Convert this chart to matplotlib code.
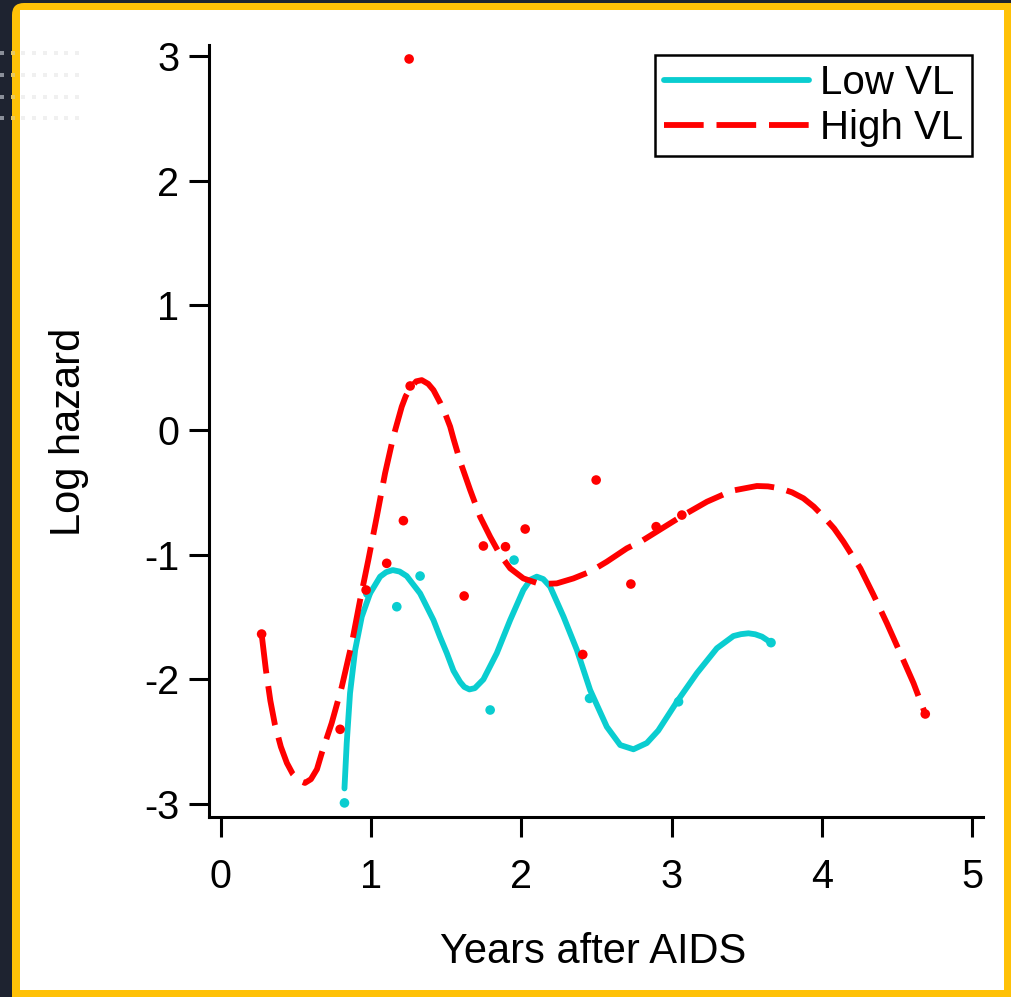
import numpy as np
import matplotlib.pyplot as plt
from matplotlib.patches import FancyBboxPatch, Rectangle

plt.rcParams['font.family'] = ['Liberation Sans', 'DejaVu Sans']

# DATA
# fitted curves
low_x = [0.823, 0.838, 0.86, 0.894, 0.938, 0.993, 1.06, 1.10, 1.144, 1.19, 1.237, 1.326,
         1.415, 1.459, 1.504, 1.548, 1.592, 1.62, 1.654, 1.69, 1.747, 1.836,
         1.925, 2.013, 2.06, 2.102, 2.145, 2.191, 2.28, 2.369, 2.457, 2.568, 2.657,
         2.745, 2.834, 2.91, 3.034, 3.167, 3.30, 3.41, 3.46, 3.51, 3.555, 3.60, 3.66]
low_y = [-2.874, -2.51, -2.11, -1.764, -1.497, -1.31, -1.176, -1.14, -1.123, -1.135, -1.171, -1.31,
         -1.524, -1.66, -1.79, -1.93, -2.02, -2.06, -2.08, -2.07, -2.0, -1.79,
         -1.524, -1.283, -1.2, -1.176, -1.195, -1.256, -1.497, -1.764, -2.085, -2.38, -2.526,
         -2.56, -2.51, -2.41, -2.179, -1.95, -1.75, -1.652, -1.637, -1.63, -1.638, -1.657, -1.705]

high_x = [0.272, 0.30, 0.33, 0.36, 0.40, 0.44, 0.48, 0.52, 0.56, 0.60,
          0.64, 0.672, 0.738, 0.805, 0.872, 0.927, 0.982, 1.038, 1.093, 1.148,
          1.204, 1.23, 1.26, 1.30, 1.337, 1.38, 1.415, 1.459, 1.492, 1.526, 1.548,
          1.592, 1.659, 1.725, 1.792, 1.858, 1.925, 2.013, 2.124, 2.235, 2.346,
          2.457, 2.568, 2.701, 2.80, 2.90, 3.067, 3.234, 3.40, 3.566, 3.64, 3.721,
          3.80, 3.876, 3.945, 4.01, 4.08, 4.142, 4.254, 4.342, 4.431, 4.52, 4.608, 4.686]
high_y = [-1.636, -1.92, -2.17, -2.36, -2.54, -2.67, -2.76, -2.81, -2.83, -2.80,
          -2.72, -2.59, -2.35, -2.06, -1.71, -1.363, -1.04, -0.695, -0.347, -0.054,
          0.187, 0.27, 0.334, 0.39, 0.40, 0.37, 0.32, 0.22, 0.134, 0.027, -0.07,
          -0.25, -0.481, -0.695, -0.856, -1.00, -1.109, -1.19, -1.235, -1.23, -1.19,
          -1.136, -1.056, -0.949, -0.89, -0.815, -0.69, -0.575, -0.487, -0.449, -0.452, -0.468,
          -0.50, -0.548, -0.615, -0.695, -0.79, -0.896, -1.109, -1.323, -1.55, -1.79, -2.03, -2.277]

# raw points
low_pts_x = [0.823, 0.978, 1.171, 1.326, 1.792, 1.951, 2.453, 3.045, 3.66]
low_pts_y = [-2.99, -1.31, -1.417, -1.171, -2.245, -1.043, -2.152, -2.179, -1.705]

high_pts_x = [0.272, 0.794, 0.967, 1.104, 1.215, 1.253, 1.26, 1.619, 1.747,
              1.894, 2.025, 2.408, 2.497, 2.728, 2.896, 3.067, 4.686]
high_pts_y = [-1.636, -2.40, -1.283, -1.069, -0.727, 2.975, 0.353, -1.331, -0.93,
              -0.936, -0.794, -1.80, -0.401, -1.235, -0.775, -0.682, -2.277]

x_ticks = [0, 1, 2, 3, 4, 5]
y_ticks = [-3, -2, -1, 0, 1, 2, 3]
y_tick_labels = ['-3', '-2', '-1', '0', '1', '2', '3']

CYAN = '#0ACDD0'
RED = '#FF0000'
W, H = 1012, 997

fig = plt.figure(figsize=(W / 100, H / 100), dpi=100)
fig.patch.set_facecolor('#1E2330')

# screenshot frame: yellow rounded border around white panel (kept behind the axes)
px = fig.dpi_scale_trans
fig.patches.append(FancyBboxPatch((12 / 100, -30 / 100), (W + 30 - 12) / 100, (H - 3 + 30) / 100,
                                  boxstyle='round,pad=0,rounding_size=0.12',
                                  facecolor='#FFC107', edgecolor='none', transform=px,
                                  zorder=-3))
fig.patches.append(Rectangle((20 / 100, (H - 990) / 100), (1004 - 20) / 100, (990 - 10) / 100,
                             facecolor='white', edgecolor='none', transform=px, zorder=-2))
# faint dotted decoration at the left edge
for yy in [53, 75, 97, 118]:
    xs = np.arange(2, 78, 10.7)
    cols = ['#8A8F99' if x < 12 else ('#E8C860' if x < 20 else '#F0F0F0') for x in xs]
    for x, c in zip(xs, cols):
        fig.patches.append(Rectangle(((x - 2) / 100, (H - yy - 2) / 100), 4 / 100, 4 / 100,
                                     facecolor=c, edgecolor='none', transform=px, zorder=-1))

ax = fig.add_axes([209 / W, 1 - 817 / H, (983 - 209) / W, (817 - 45) / H])
ax.set_facecolor('none')

ax.plot(low_x, low_y, color=CYAN, lw=4.2, solid_capstyle='round', solid_joinstyle='round',
        label='Low VL', zorder=3)
ax.plot(high_x, high_y, color=RED, lw=4.2, linestyle=(0, (6.8, 2.2)), dash_joinstyle='round',
        label='High VL', zorder=3)
ax.scatter(low_pts_x, low_pts_y, s=48, color=CYAN, edgecolor='none', zorder=4)
ax.scatter(high_pts_x, high_pts_y, s=48, color=RED, edgecolor='none', zorder=4)

ax.set_xlim(-0.078, 5.07)
ax.set_ylim(-3.103, 3.087)
ax.set_xticks(x_ticks)
ax.set_yticks(y_ticks)
ax.set_yticklabels(y_tick_labels)

for s in ['top', 'right']:
    ax.spines[s].set_visible(False)
for s in ['left', 'bottom']:
    ax.spines[s].set_linewidth(2.2)
ax.tick_params(axis='both', length=14.4, width=2.2, labelsize=28.5, color='black')
ax.tick_params(axis='x', pad=15)
ax.tick_params(axis='y', pad=7)

fig.text(593 / W, 1 - 963 / H, 'Years after AIDS', fontsize=30, ha='center', va='baseline')
fig.text(80 / W, 1 - 432 / H, 'Log hazard', fontsize=30, ha='center', va='baseline',
         rotation=90, rotation_mode='anchor')

leg = ax.legend(loc='upper right', bbox_to_anchor=(971.7 / W, 1 - 55 / H),
                bbox_transform=fig.transFigure, borderaxespad=0, fontsize=29,
                handlelength=3.6, handletextpad=0.26, labelspacing=0.17,
                borderpad=0.22, fancybox=False, framealpha=1)
leg.get_frame().set_edgecolor('black')
leg.get_frame().set_linewidth(1.8)

fig.savefig('out.png', dpi=100, facecolor=fig.get_facecolor())
